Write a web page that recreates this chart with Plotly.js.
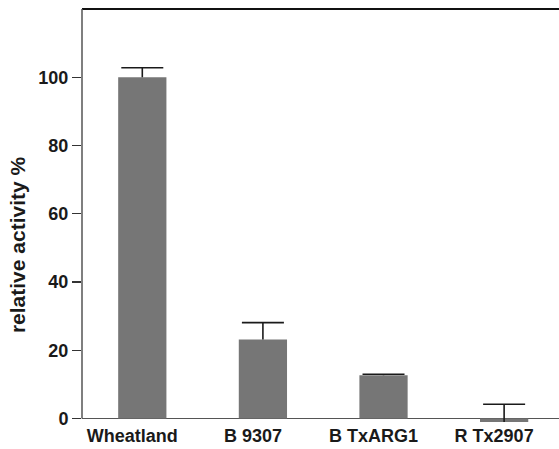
<!DOCTYPE html>
<html>
<head>
<meta charset="utf-8">
<script src="https://cdn.plot.ly/plotly-3.0.1.min.js"></script>
<style>html,body{margin:0;padding:0;background:#fff;}</style>
</head>
<body>
<div id="chart" style="width:559px;height:449px;"></div>
<script>
var categories = ["Wheatland", "B 9307", "B TxARG1", "R Tx2907"];
var activity = [100, 23.2, 12.7, -1.0];
var errorUp = [2.8, 4.9, 0.3, 5.2];
var errorDown = [0, 0, 0, 0];
var yTickVals = [0, 20, 40, 60, 80, 100];

var capY = activity.map(function (v, i) { return v + errorUp[i]; });

var barTrace = {
  type: "bar",
  x: categories,
  y: activity,
  width: 0.4,
  cliponaxis: false,
  marker: {color: "#767676", line: {width: 0, color: "#767676"}},
  hoverinfo: "none"
};

var capTrace = {
  type: "scatter",
  mode: "markers",
  x: categories,
  y: capY,
  cliponaxis: false,
  marker: {symbol: "line-ew", size: 30, color: "#1a1a1a", line: {color: "#1a1a1a", width: 1.6}},
  error_y: {
    type: "data",
    symmetric: false,
    array: errorDown,
    arrayminus: errorUp,
    color: "#1a1a1a",
    thickness: 1.6,
    width: 0
  },
  hoverinfo: "none"
};

var font = {family: "Liberation Sans, Arial, sans-serif", size: 18, color: "#1a1a1a", weight: "bold"};

var layout = {
  width: 559,
  height: 449,
  margin: {l: 82, r: 0, t: 9, b: 26},
  paper_bgcolor: "#fff",
  plot_bgcolor: "#fff",
  showlegend: false,
  font: font,
  xaxis: {
    type: "category",
    range: [-0.5, 3.455],
    showgrid: false,
    zeroline: false,
    showline: false,
    ticks: "",
    ticklabelshift: -10,
    tickfont: font
  },
  yaxis: {
    range: [-1.3, 120],
    tickvals: yTickVals,
    ticksuffix: "\u00a0",
    showgrid: false,
    zeroline: true,
    zerolinecolor: "#555",
    zerolinewidth: 1.5,
    showline: false,
    ticks: "outside",
    ticklen: 9,
    tickwidth: 1.2,
    tickcolor: "#333",
    tickfont: font
  },
  shapes: [
    {type: "line", xref: "paper", yref: "paper", x0: 0, x1: 1, y0: 1, y1: 1,
     line: {color: "#111", width: 2}},
    {type: "line", xref: "paper", yref: "y", x0: 0, x1: 0, y0: 0, y1: 120,
     line: {color: "#555", width: 1.5}}
  ],
  annotations: [{
    text: "relative activity %",
    xref: "paper", yref: "y",
    x: -0.135, y: 51,
    xanchor: "center", yanchor: "middle",
    textangle: -90,
    showarrow: false,
    font: {family: "Liberation Sans, Arial, sans-serif", size: 21, color: "#1a1a1a", weight: "bold"}
  }]
};

Plotly.newPlot("chart", [barTrace, capTrace], layout, {staticPlot: true, displayModeBar: false});
</script>
</body>
</html>
